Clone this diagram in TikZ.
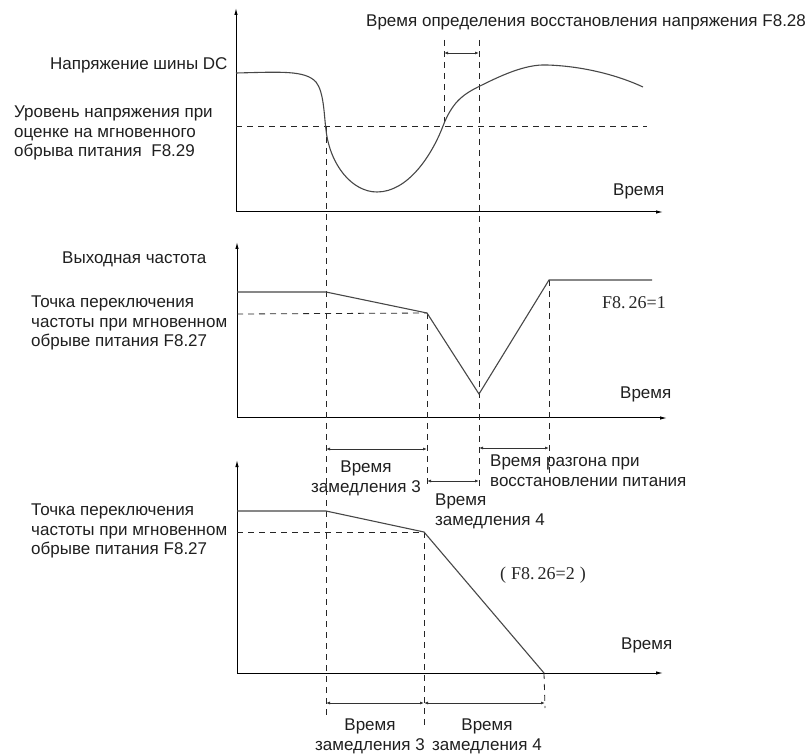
\documentclass[tikz,border=0pt]{standalone}
\usepackage{fontspec}
\setmainfont{Liberation Sans}
\newfontfamily\cnserif{Liberation Serif}
\usetikzlibrary{arrows.meta}
\begin{document}
\begin{tikzpicture}[x=1pt,y=-1pt,
  lbl/.style={font=\fontsize{17}{19.5}\selectfont, inner sep=0pt, text=black!88, align=left, anchor=north west},
  clbl/.style={font=\fontsize{17}{19.5}\selectfont, inner sep=0pt, text=black!88, align=center, anchor=north},
  slbl/.style={font=\cnserif\fontsize{18}{19.5}\selectfont, inner sep=0pt, text=black!85, anchor=west},
  axis/.style={line width=1pt, draw=black, -{Latex[length=7pt,width=3.5pt]}},
  curve/.style={line width=1.1pt, draw=black!72},
  guide/.style={line width=0.8pt, draw=black!85, dash pattern=on 6pt off 5pt},
  span/.style={line width=0.8pt, draw=black!80, {Latex[length=4pt,width=3pt]}-{Latex[length=4pt,width=3pt]}}
]
\useasboundingbox (0,0) rectangle (807,754);

% ---------- key coordinates ----------
% panel 1
\coordinate (o1) at (236,212);
\coordinate (y1) at (236,8);
\coordinate (x1) at (663,212);
\coordinate (h1a) at (236,126);
\coordinate (h1b) at (647,126);
% panel 2
\coordinate (o2) at (237,418);
\coordinate (y2) at (237,242);
\coordinate (x2) at (667,418);
\coordinate (p2a) at (237,292);
\coordinate (p2b) at (326,292);
\coordinate (p2c) at (427,313);
\coordinate (p2d) at (479,394);
\coordinate (p2e) at (549,280);
\coordinate (p2f) at (652,280);
\coordinate (h2a) at (237,314);
% panel 3
\coordinate (o3) at (237,673);
\coordinate (y3) at (237,460);
\coordinate (x3) at (663,673);
\coordinate (p3a) at (237,511);
\coordinate (p3b) at (326,511);
\coordinate (p3c) at (424,532);
\coordinate (p3d) at (544,673);
\coordinate (h3a) at (237,532);

% ---------- axes ----------
\draw[axis] (o1) -- (y1);
\draw[axis] (o1) -- (x1);
\draw[axis] (o2) -- (y2);
\draw[axis] (o2) -- (x2);
\draw[axis] (o3) -- (y3);
\draw[axis] (o3) -- (x3);

% ---------- dashed guides ----------
\draw[guide] (h1a) -- (h1b);
\draw[guide] (h2a) -- (p2c);
\draw[guide] (h3a) -- (p3c);
\coordinate (g1t) at (326,126);  \coordinate (g1b) at (326,718);
\coordinate (g2t) at (444,40);   \coordinate (g2b) at (444,126);
\coordinate (g3t) at (479,40);   \coordinate (g3b) at (479,488);
\coordinate (g4b) at (427,488);
\coordinate (g5b) at (549,473);
\coordinate (g6b) at (424,725);
\coordinate (g7b) at (545,708);
\draw[guide] (g1t) -- (g1b);
\draw[guide] (g2t) -- (g2b);
\draw[guide] (g3t) -- (g3b);
\draw[guide] (p2c) -- (g4b);
\draw[guide] (p2e) -- (g5b);
\draw[guide] (p3c) -- (g6b);
\draw[guide] (p3d) -- (g7b);

% ---------- curves ----------
\draw[curve] (236,73) .. controls (280,72) and (305,70) .. (316,82)
  .. controls (324,92) and (324,115) .. (326,130)
  .. controls (330,165) and (352,192) .. (377,192)
  .. controls (408,192) and (432,155) .. (443,126)
  .. controls (452,103) and (462,95) .. (478,87)
  .. controls (500,76) and (525,64) .. (547,65)
  .. controls (580,66) and (615,74) .. (643,87);
\draw[curve] (p2a) -- (p2b) -- (p2c) -- (p2d) -- (p2e) -- (p2f);
\draw[curve] (p3a) -- (p3b) -- (p3c) -- (p3d);

% ---------- interval arrows ----------
\coordinate (s1a) at (444,53);  \coordinate (s1b) at (479,53);
\coordinate (s2a) at (326,449); \coordinate (s2b) at (427,449);
\coordinate (s3a) at (427,481); \coordinate (s3b) at (479,481);
\coordinate (s4a) at (479,448); \coordinate (s4b) at (549,448);
\coordinate (s5a) at (326,703); \coordinate (s5b) at (424,703);
\coordinate (s6b) at (545,703);
\draw[span] (s1a) -- (s1b);
\draw[span] (s2a) -- (s2b);
\draw[span] (s3a) -- (s3b);
\draw[span] (s4a) -- (s4b);
\draw[span] (s5a) -- (s5b);
\draw[span] (s5b) -- (s6b);

% ---------- labels ----------
\node[lbl] (tF828) at (366,14) {Время определения восстановления напряжения F8.28};
\node[lbl] (tDC) at (50,57) {Напряжение шины DC};
\node[lbl] (tF829) at (14,106) {Уровень напряжения при\\оценке на мгновенного\\обрыва питания~~F8.29};
\node[lbl] (tT1) at (613,184) {Время};
\node[lbl] (tOut) at (62,252) {Выходная частота};
\node[lbl] (tF827a) at (31,296) {Точка переключения\\частоты при мгновенном\\обрыве питания F8.27};
\node[slbl] (t261) at (602,303) {F8.\,26=1};
\node[lbl] (tT2) at (620,387) {Время};
\node[clbl] (tD3a) at (366,461) {Время\\замедления 3};
\node[lbl] (tAcc) at (490,455) {Время разгона при\\восстановлении питания};
\node[lbl] (tD4a) at (435,494) {Время\\замедления 4};
\node[lbl] (tF827b) at (31,504) {Точка переключения\\частоты при мгновенном\\обрыве питания F8.27};
\node[slbl] (t262) at (500,575) {(\;F8.\,26=2\;)};
\node[lbl] (tT3) at (621,638) {Время};
\node[clbl] (tD3b) at (370,719) {Время\\замедления 3};
\node[clbl] (tD4b) at (487,719) {Время\\замедления 4};
\end{tikzpicture}
\end{document}
